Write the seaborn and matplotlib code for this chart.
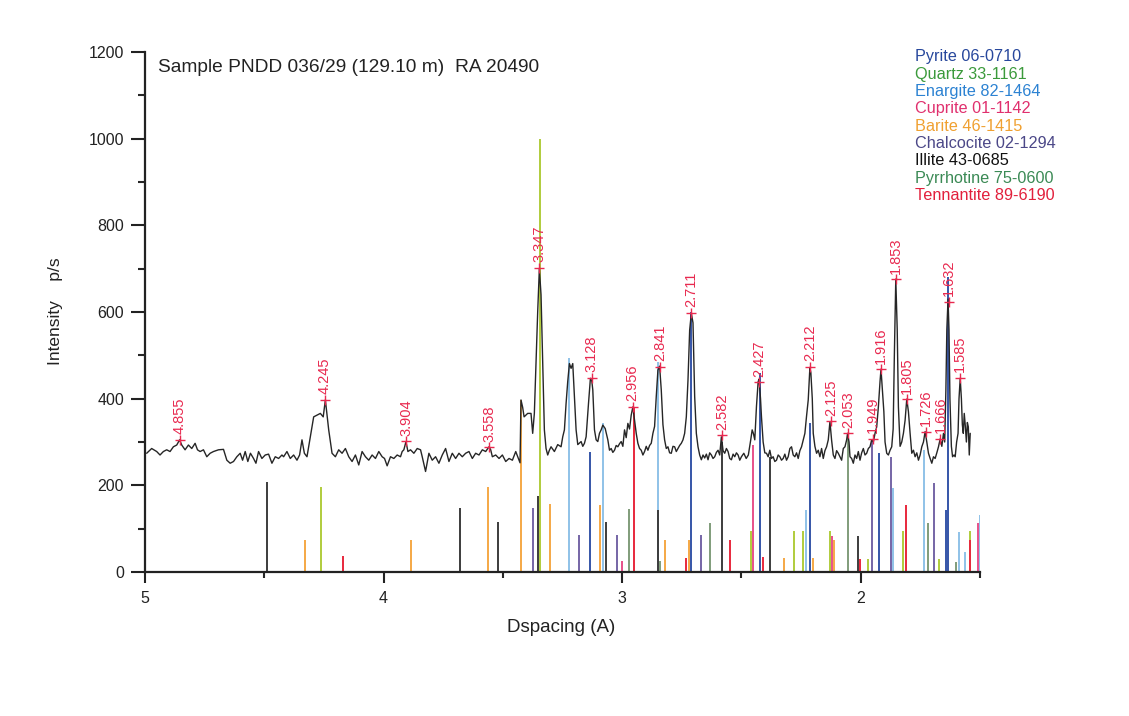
import numpy as np
import pandas as pd
import matplotlib
matplotlib.use("Agg")
import matplotlib.pyplot as plt
import seaborn as sns

# ---------------- data ----------------
trace_d = [4.993, 4.972, 4.951, 4.937, 4.923, 4.909, 4.895, 4.881, 4.867, 4.855, 4.846, 4.832, 4.818, 4.804, 4.790,
           4.780, 4.769, 4.755, 4.741, 4.727, 4.713, 4.692, 4.671, 4.657, 4.643, 4.629, 4.615, 4.601, 4.591, 4.580,
           4.569, 4.558, 4.545, 4.535, 4.524, 4.510, 4.496, 4.482, 4.468, 4.454, 4.440, 4.426,
           4.419, 4.405, 4.391, 4.377, 4.363, 4.352, 4.342, 4.332, 4.321, 4.307, 4.293, 4.279, 4.265, 4.253, 4.244,
           4.230, 4.216, 4.202, 4.188, 4.174, 4.160, 4.146, 4.132, 4.118, 4.104, 4.090, 4.076, 4.062, 4.048, 4.034,
           4.020, 4.006, 3.996, 3.985, 3.971, 3.957, 3.943, 3.929, 3.922, 3.915, 3.906, 3.898, 3.887, 3.873, 3.859, 3.845,
           3.838, 3.824, 3.810, 3.796, 3.782, 3.768, 3.754, 3.740, 3.726, 3.712, 3.698, 3.684, 3.670, 3.656, 3.642,
           3.628, 3.614, 3.600, 3.586, 3.572, 3.558, 3.551, 3.544, 3.530, 3.516, 3.502, 3.488, 3.474, 3.460, 3.446,
           3.432, 3.428,
           3.424, 3.417, 3.411, 3.396, 3.382, 3.375, 3.368, 3.361, 3.354, 3.347, 3.340, 3.333, 3.326, 3.319, 3.312,
           3.305, 3.298, 3.284, 3.270, 3.256, 3.249, 3.242, 3.235, 3.228, 3.221, 3.214, 3.207, 3.200, 3.193, 3.186,
           3.172, 3.165, 3.158, 3.151, 3.141, 3.133, 3.127, 3.123, 3.116, 3.109, 3.102, 3.095, 3.088, 3.081, 3.071,
           3.060, 3.053, 3.046, 3.039, 3.032, 3.025, 3.018, 3.011, 3.004, 2.997, 2.990, 2.983, 2.976, 2.969, 2.962,
           2.955, 2.948, 2.941, 2.934, 2.927, 2.920, 2.913, 2.906, 2.899, 2.892, 2.885, 2.878, 2.871, 2.864, 2.857,
           2.850, 2.843, 2.836, 2.829, 2.822, 2.815, 2.808, 2.801, 2.794, 2.787, 2.780, 2.773, 2.766, 2.759, 2.752,
           2.745, 2.738, 2.731, 2.724, 2.717, 2.710, 2.703, 2.696, 2.689, 2.682, 2.675, 2.668, 2.661, 2.654, 2.647,
           2.640, 2.633, 2.626, 2.619, 2.612, 2.605, 2.598, 2.591, 2.584, 2.577, 2.570, 2.563, 2.556, 2.549, 2.542,
           2.535, 2.528, 2.521, 2.514, 2.507,
           2.500, 2.490, 2.480, 2.471, 2.461, 2.455, 2.450, 2.444, 2.437, 2.430, 2.426, 2.420, 2.416, 2.409, 2.402,
           2.395, 2.388, 2.381, 2.374, 2.367, 2.360, 2.353, 2.346, 2.339, 2.332, 2.325, 2.318, 2.311, 2.304, 2.297,
           2.290, 2.283, 2.276, 2.269, 2.262, 2.255, 2.248, 2.241, 2.234, 2.227, 2.220, 2.213, 2.209, 2.203, 2.199,
           2.192, 2.185, 2.178, 2.171, 2.164, 2.157, 2.150, 2.143, 2.136, 2.129, 2.122, 2.115, 2.108, 2.101, 2.094,
           2.087, 2.080, 2.073, 2.066, 2.059, 2.055, 2.049, 2.045, 2.038, 2.031, 2.024, 2.017, 2.010, 2.003, 1.996,
           1.989, 1.982, 1.975, 1.968, 1.961, 1.954, 1.947, 1.940, 1.933, 1.926, 1.919, 1.915, 1.909, 1.903, 1.898,
           1.891, 1.884, 1.877, 1.870, 1.864, 1.859, 1.853, 1.847, 1.842, 1.835, 1.828, 1.821, 1.814, 1.807, 1.800,
           1.793, 1.786, 1.779, 1.772, 1.765, 1.758, 1.751, 1.744, 1.737, 1.730, 1.723, 1.716, 1.709, 1.702, 1.695,
           1.688, 1.681, 1.674, 1.667, 1.660, 1.653, 1.648, 1.643, 1.639, 1.634, 1.630, 1.626, 1.620, 1.615, 1.609,
           1.604, 1.598, 1.592, 1.588, 1.583, 1.578, 1.574, 1.570, 1.566, 1.562, 1.557, 1.553, 1.549, 1.545, 1.541]
trace_i = [274, 285, 278, 270, 278, 282, 278, 289, 293, 305, 293, 282, 293, 285, 297,
           282, 278, 282, 266, 274, 278, 282, 283, 258, 251, 255, 266, 274, 258, 278,
           255, 274, 262, 251, 278, 262, 270, 272, 251, 266, 262, 270,
           266, 278, 262, 270, 258, 270, 305, 274, 266, 312, 358, 362, 366, 358, 397,
           328, 274, 266, 282, 274, 285, 266, 255, 270, 247, 278, 266, 258, 270, 262,
           278, 266, 262, 245, 266, 262, 270, 266, 278, 282, 301, 278, 282, 274, 285, 282,
           266, 232, 274, 258, 266, 251, 270, 285, 255, 274, 262, 274, 266, 274, 278,
           262, 274, 270, 282, 278, 289, 282, 266, 270, 262, 270, 255, 262, 258, 278,
           258, 252,
           397, 380, 358, 366, 366, 320, 366, 481, 600, 700, 640, 481, 328, 285, 270,
           281, 289, 278, 294, 289, 312, 328, 389, 440, 481, 470, 481, 405, 328, 294,
           301, 290, 297, 312, 389, 447, 440, 420, 328, 305, 301, 320, 328, 339, 331,
           305, 281, 285, 276, 281, 292, 289, 296, 301, 290, 328, 310, 343, 330, 362,
           381, 351, 320, 297, 285, 281, 270, 278, 290, 281, 292, 297, 320, 336, 405,
           466, 475, 420, 340, 305, 285, 289, 275, 274, 290, 289, 278, 285, 292, 297,
           305, 320, 358, 443, 558, 597, 575, 405, 320, 289, 270, 259, 270, 263, 272,
           259, 275, 270, 262, 266, 276, 281, 270, 312, 280, 274, 285, 278, 262, 259,
           272, 266, 275, 270, 258,
           266, 274, 262, 270, 305, 328, 320, 305, 382, 439, 445, 400, 358, 300, 275,
           274, 266, 281, 262, 266, 255, 258, 270, 266, 258, 262, 272, 258, 266, 285,
           289, 270, 266, 275, 262, 280, 289, 304, 320, 360, 397, 472, 460, 400, 320,
           290, 274, 281, 266, 285, 262, 280, 289, 305, 347, 304, 270, 262, 280, 274,
           266, 258, 285, 289, 305, 320, 300, 266, 262, 251, 270, 262, 278, 258, 275,
           285, 270, 274, 285, 289, 305, 300, 320, 335, 381, 440, 468, 420, 370, 300,
           274, 270, 281, 289, 330, 500, 676, 560, 381, 290, 300, 320, 350, 399, 370,
           320, 274, 281, 266, 275, 258, 270, 289, 300, 324, 300, 274, 262, 251, 266,
           262, 275, 289, 307, 290, 320, 300, 420, 560, 630, 560, 400, 290, 266, 270,
           266, 300, 320, 400, 447, 400, 340, 320, 366, 340, 300, 345, 335, 270, 320]

# reference sticks (d-spacing, intensity) per phase
pyrite_d = [3.133, 2.710, 2.423, 2.212, 1.922, 1.643, 1.633]
pyrite_i = [278, 600, 460, 345, 274, 143, 680]
quartz_d = [4.262, 3.343, 2.461, 2.280, 2.240, 2.129, 1.971, 1.821, 1.672, 1.541]
quartz_i = [197, 1000, 94, 94, 94, 94, 31, 94, 31, 94]
enargite_d = [3.222, 3.081, 2.850, 2.231, 1.866, 1.733, 1.590, 1.561, 1.502]
enargite_i = [495, 344, 485, 143, 193, 281, 93, 46, 131]
cuprite_d = [3.001, 2.451, 2.122, 1.509]
cuprite_i = [25, 293, 83, 112]
barite_d = [4.331, 3.884, 3.563, 3.423, 3.301, 3.091, 2.822, 2.721, 2.322, 2.202, 2.111]
barite_i = [75, 75, 196, 397, 158, 155, 74, 74, 33, 32, 73]
chalcocite_d = [3.375, 3.182, 3.021, 2.671, 1.951, 1.873, 1.691]
chalcocite_i = [147, 85, 85, 85, 305, 266, 205]
illite_d = [4.489, 3.679, 3.522, 3.353, 3.068, 2.851, 2.581, 2.381, 2.012]
illite_i = [208, 147, 116, 175, 115, 144, 300, 265, 83]
pyrrhotine_d = [2.972, 2.840, 2.630, 2.052, 1.720, 1.601]
pyrrhotine_i = [145, 25, 114, 320, 112, 22]
tennantite_d = [4.172, 2.951, 2.731, 2.549, 2.411, 2.002, 1.811, 1.540]
tennantite_i = [37, 381, 33, 74, 34, 31, 155, 74]

phase_names = ["Pyrite 06-0710", "Quartz 33-1161", "Enargite 82-1464", "Cuprite 01-1142",
               "Barite 46-1415", "Chalcocite 02-1294", "Illite 43-0685", "Pyrrhotine 75-0600",
               "Tennantite 89-6190"]

peak_labels = ["4.855", "4.245", "3.904", "3.558", "3.347", "3.128", "2.956", "2.841", "2.711", "2.582",
               "2.427", "2.212", "2.125", "2.053", "1.949", "1.916", "1.853", "1.805", "1.726", "1.666",
               "1.632", "1.585"]
peak_i = [305, 397, 302, 288, 702, 448, 381, 473, 598, 316,
          438, 473, 348, 320, 307, 468, 676, 399, 323, 307, 623, 448]

# ---------------- styles ----------------
text_colors = ["#27479c", "#3b9a3b", "#2c82d2", "#e0306e", "#f0a030", "#4c4888", "#111111", "#3b8a55", "#e2203c"]
stick_colors = ["#3555a8", "#b0cc3c", "#8fc2e8", "#e8508a", "#f5a845", "#7565a6", "#3c3c3c", "#809c7a", "#e8283c"]
label_color = "#e8294f"

sns.set_theme(style="ticks")
plt.rcParams["font.family"] = ["Liberation Sans", "DejaVu Sans"]

fig = plt.figure(figsize=(11.29, 7.16), dpi=100)
ax = fig.add_axes([145 / 1129, 1 - 572 / 716, (980 - 145) / 1129, (572 - 52) / 716])

# sticks
all_d = [pyrite_d, quartz_d, enargite_d, cuprite_d, barite_d, chalcocite_d, illite_d, pyrrhotine_d, tennantite_d]
all_i = [pyrite_i, quartz_i, enargite_i, cuprite_i, barite_i, chalcocite_i, illite_i, pyrrhotine_i, tennantite_i]
rows = []
for name, ds, ins in zip(phase_names, all_d, all_i):
    for d, v in zip(ds, ins):
        rows.append((name, d, v))
sticks = pd.DataFrame(rows, columns=["phase", "d", "I"])
for name, col in zip(phase_names, stick_colors):
    sub = sticks[sticks.phase == name]
    ax.vlines(sub["d"], 0, sub["I"], colors=col, lw=1.4, zorder=2)

# measured trace
trace = pd.DataFrame({"d": trace_d, "I": trace_i})
sns.lineplot(data=trace, x="d", y="I", ax=ax, color="#262626", lw=1.0, sort=False,
             estimator=None, zorder=3)

# peak markers + labels
for lab, v in zip(peak_labels, peak_i):
    d = float(lab)
    ax.plot([d], [v], marker="+", color=label_color, ms=7, mew=1.0, zorder=4)
    ax.annotate(lab, (d, v), xytext=(0, 4), textcoords="offset points", rotation=90,
                ha="center", va="bottom", color=label_color, fontsize=10.5)

ax.set_xlim(5, 1.5)
ax.set_ylim(0, 1200)
ax.set_xticks([5, 4, 3, 2])
ax.set_xticklabels(["5", "4", "3", "2"])
ax.set_xticks([4.5, 3.5, 2.5, 1.5], minor=True)
ax.set_yticks(range(0, 1201, 200))
ax.set_yticks(range(100, 1200, 200), minor=True)
ax.tick_params(axis="both", which="major", direction="out", width=1.5, labelsize=11.5, colors="#222222")
ax.tick_params(axis="y", which="major", length=10, pad=5)
ax.tick_params(axis="y", which="minor", length=5, width=1.5, direction="out")
ax.tick_params(axis="x", which="major", length=8, pad=6)
ax.tick_params(axis="x", which="minor", length=4.5, width=1.5, direction="out")
for s in ["left", "bottom"]:
    ax.spines[s].set_linewidth(1.6)
    ax.spines[s].set_color("#222222")
sns.despine(ax=ax)
ax.set_xlabel("")
ax.set_ylabel("")

fig.text(0.497, 0.123, "Dspacing (A)", ha="center", va="center", fontsize=13.5, color="#222222")
fig.text(0.049, 0.566, "Intensity    p/s", ha="center", va="center", rotation=90, fontsize=12.5, color="#222222")
fig.text(158 / 1129, 1 - 68 / 716, "Sample PNDD 036/29 (129.10 m)  RA 20490", ha="left", va="center",
         fontsize=13.8, color="#222222")

for k, (name, col) in enumerate(zip(phase_names, text_colors)):
    fig.text(915 / 1129, 1 - (57 + 17.3 * k) / 716, name, ha="left", va="center", fontsize=11.7, color=col)

fig.savefig("out.png", dpi=100, facecolor="white")
